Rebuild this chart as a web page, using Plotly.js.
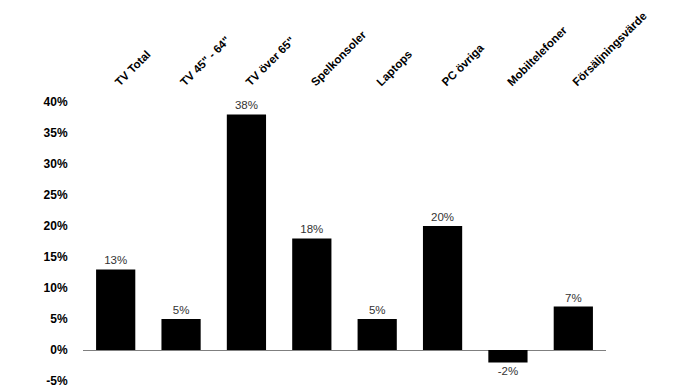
<!DOCTYPE html>
<html>
<head>
<meta charset="utf-8">
<script src="https://cdn.plot.ly/plotly-3.0.1.min.js"></script>
<style>
  html, body { margin: 0; padding: 0; background: #fff; }
  #chart { width: 690px; height: 388px; }
</style>
</head>
<body>
<div id="chart"></div>
<script>
// Product categories and their change in sales (%)
const categories = ["TV Total", "TV 45\" - 64\"", "TV över 65\"", "Spelkonsoler", "Laptops", "PC övriga", "Mobiltelefoner", "Försäljningsvärde"];
const changePct = [13, 5, 38, 18, 5, 20, -2, 7];
const yTicks = [-5, 0, 5, 10, 15, 20, 25, 30, 35, 40];

const trace = {
  type: "bar",
  x: categories,
  y: changePct,
  marker: { color: "#000000", line: { width: 0 } },
  text: changePct.map(v => v + "%"),
  textposition: "outside",
  textfont: { family: "Liberation Sans, Arial, sans-serif", size: 11.5, color: "#333333" },
  cliponaxis: false,
  hoverinfo: "none"
};

const layout = {
  width: 690,
  height: 388,
  margin: { l: 83, r: 84, t: 102, b: 6 },
  paper_bgcolor: "#ffffff",
  plot_bgcolor: "#ffffff",
  showlegend: false,
  bargap: 0.40,
  xaxis: {
    side: "top",
    type: "category",
    tickangle: -45,
    showgrid: false,
    showline: false,
    zeroline: false,
    // invisible ticks push the labels away from the plot area
    ticks: "outside",
    ticklen: 8,
    tickcolor: "rgba(0,0,0,0)",
    tickfont: { family: "Liberation Sans, Arial, sans-serif", size: 11.5, color: "#000000", weight: "bold" }
  },
  yaxis: {
    range: [-5.16, 40],
    tickvals: yTicks,
    ticktext: yTicks.map(v => v + "%"),
    showgrid: false,
    showline: false,
    zeroline: true,
    zerolinecolor: "#7f7f7f",
    zerolinewidth: 1,
    ticks: "outside",
    ticklen: 12,
    tickcolor: "rgba(0,0,0,0)",
    ticklabeloverflow: "allow",
    tickfont: { family: "Liberation Sans, Arial, sans-serif", size: 12, color: "#000000", weight: "bold" }
  }
};

Plotly.newPlot("chart", [trace], layout, { displayModeBar: false, staticPlot: true });
</script>
</body>
</html>
